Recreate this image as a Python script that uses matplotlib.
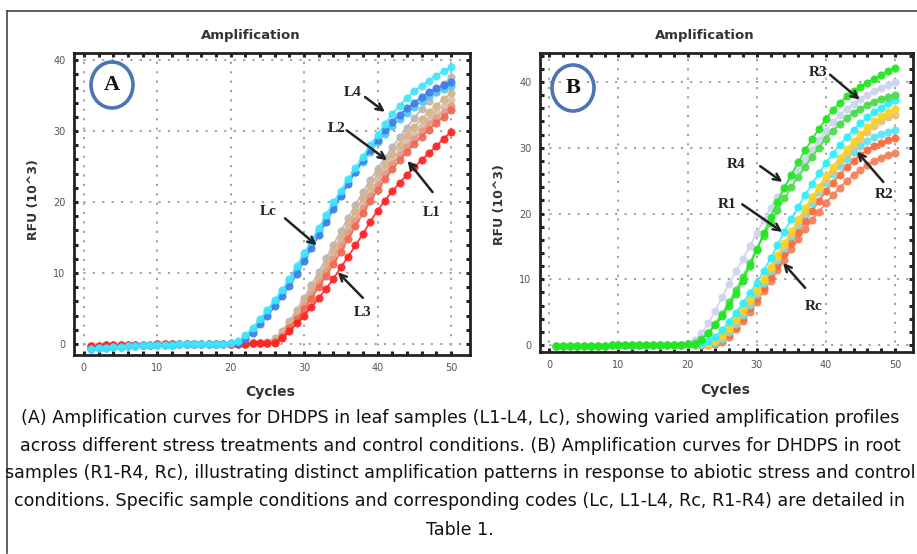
import numpy as np
import matplotlib.pyplot as plt
from matplotlib.patches import Ellipse
from matplotlib.lines import Line2D

cycles = list(range(1, 51))

# baselines (cycles 1-20)
base_a_early = [-0.7, -0.6, -0.5, -0.4, -0.4, -0.3, -0.3, -0.2, -0.2, -0.1,
                -0.1, -0.1, 0.0, 0.0, 0.0, 0.0, 0.0, 0.0, 0.0, 0.1]
base_a_late = [-0.3, -0.3, -0.2, -0.2, -0.2, -0.1, -0.1, -0.1, -0.1, 0.0,
               0.0, 0.0, 0.0, 0.0, 0.0, 0.0, 0.0, 0.0, 0.0, 0.0]
base_b = [-0.2, -0.2, -0.2, -0.1, -0.1, -0.1, -0.1, -0.1, 0.0, 0.0,
          0.0, 0.0, 0.0, 0.0, 0.0, 0.0, 0.0, 0.0, 0.0, 0.1]

# panel A, cycles 21-50 (RFU x10^3)
grey_a = [0.0, 0.1, 0.1, 0.2, 0.3, 0.8, 1.8, 3.2, 4.8, 6.5, 8.3, 10.2, 12.1, 14.0, 15.9,
          17.8, 19.6, 21.4, 23.1, 24.7, 26.2, 27.7, 29.1, 30.5, 31.8, 33.1, 34.3, 35.5, 36.6, 37.6]
tan_a = [0.0, 0.1, 0.1, 0.2, 0.2, 0.5, 1.5, 2.9, 4.4, 6.0, 7.7, 9.5, 11.3, 13.2, 15.1,
         17.0, 18.8, 20.6, 22.3, 23.9, 25.4, 26.8, 28.1, 29.4, 30.6, 31.7, 32.7, 33.6, 34.5, 35.3]
beige_a = [0.0, 0.0, 0.1, 0.1, 0.2, 0.4, 1.2, 2.5, 4.0, 5.6, 7.3, 9.0, 10.8, 12.6, 14.4,
           16.2, 18.0, 19.7, 21.4, 23.0, 24.5, 25.9, 27.2, 28.4, 29.6, 30.7, 31.7, 32.7, 33.6, 34.4]
salmon_a = [0.0, 0.0, 0.1, 0.1, 0.2, 0.3, 1.1, 2.3, 3.7, 5.2, 6.8, 8.5, 10.2, 12.0, 13.8,
            15.6, 17.4, 19.1, 20.8, 22.4, 23.9, 25.3, 26.6, 27.8, 28.9, 30.0, 31.0, 31.9, 32.7, 33.5]
coral_a = [0.0, 0.0, 0.1, 0.1, 0.2, 0.3, 1.0, 2.2, 3.5, 4.9, 6.4, 8.0, 9.6, 11.3, 13.0,
           14.8, 16.6, 18.4, 20.1, 21.7, 23.2, 24.6, 25.9, 27.1, 28.2, 29.2, 30.2, 31.1, 32.0, 32.9]
red_a = [0.0, 0.0, 0.1, 0.1, 0.1, 0.2, 0.8, 1.8, 2.9, 4.0, 5.2, 6.5, 7.8, 9.2, 10.8,
         12.3, 13.9, 15.5, 17.2, 18.8, 20.2, 21.5, 22.7, 23.8, 24.9, 25.9, 26.9, 27.9, 28.9, 29.9]
sky_a = [0.3, 1.0, 2.0, 3.2, 4.5, 5.9, 7.3, 8.9, 10.6, 12.3, 14.1, 15.9, 17.7, 19.5, 21.2,
         22.8, 24.3, 25.7, 27.1, 28.4, 29.6, 30.7, 31.7, 32.6, 33.4, 34.2, 34.9, 35.5, 35.9, 36.3]
blue_a = [0.2, 0.7, 1.6, 2.8, 4.0, 5.3, 6.7, 8.2, 9.9, 11.7, 13.5, 15.3, 17.2, 19.0, 20.8,
          22.6, 24.3, 25.9, 27.4, 28.8, 30.1, 31.3, 32.3, 33.2, 34.0, 34.8, 35.5, 36.0, 36.5, 36.9]
cyan_a = [0.4, 1.2, 2.3, 3.5, 4.8, 6.2, 7.6, 9.2, 11.0, 12.8, 14.5, 16.3, 18.2, 20.0, 21.6,
          23.2, 24.8, 26.4, 28.0, 29.5, 31.0, 32.4, 33.6, 34.7, 35.6, 36.4, 37.1, 37.8, 38.4, 39.0]

# panel B, cycles 21-50
orange2_b = [0.0, 0.0, 0.0, 0.1, 0.5, 1.3, 2.4, 3.7, 5.1, 6.6, 8.2, 9.8, 11.4, 13.0, 14.6,
             16.1, 17.6, 19.0, 20.3, 21.6, 22.8, 23.9, 24.9, 25.8, 26.6, 27.4, 28.0, 28.5, 28.9, 29.2]
orange_b = [0.0, 0.0, 0.1, 0.2, 0.7, 1.6, 2.8, 4.1, 5.6, 7.1, 8.7, 10.4, 12.1, 13.8, 15.5,
            17.2, 18.8, 20.4, 21.9, 23.4, 24.7, 25.9, 27.0, 28.0, 28.9, 29.6, 30.2, 30.7, 31.1, 31.5]
cyan2_b = [0.0, 0.1, 0.1, 0.3, 1.0, 2.0, 3.2, 4.6, 6.1, 7.7, 9.4, 11.2, 13.0, 14.8, 16.6,
           18.3, 20.0, 21.6, 23.2, 24.7, 26.0, 27.2, 28.3, 29.3, 30.2, 31.0, 31.6, 32.1, 32.4, 32.7]
tan_b = [0.0, 0.1, 0.2, 0.6, 1.3, 2.3, 3.6, 5.0, 6.5, 8.1, 9.8, 11.5, 13.3, 15.1, 16.9,
         18.6, 20.3, 22.0, 23.6, 25.1, 26.5, 27.9, 29.1, 30.3, 31.4, 32.4, 33.3, 34.0, 34.6, 35.0]
yellow_b = [0.0, 0.1, 0.2, 0.7, 1.5, 2.6, 3.9, 5.3, 6.8, 8.4, 10.1, 11.9, 13.7, 15.5, 17.3,
            19.1, 20.8, 22.5, 24.1, 25.7, 27.1, 28.5, 29.8, 31.0, 32.1, 33.1, 34.0, 34.8, 35.4, 35.9]
cyan_b = [0.1, 0.2, 0.6, 1.3, 2.3, 3.5, 4.9, 6.4, 7.9, 9.5, 11.3, 13.2, 15.2, 17.2, 19.2,
          21.0, 22.8, 24.5, 26.1, 27.7, 29.1, 30.4, 31.6, 32.7, 33.7, 34.6, 35.4, 36.1, 36.8, 37.3]
green2_b = [0.3, 0.9, 1.9, 3.2, 4.8, 6.5, 8.4, 10.4, 12.5, 14.6, 16.6, 18.6, 20.5, 22.3, 24.0,
            25.6, 27.1, 28.6, 30.0, 31.4, 32.6, 33.6, 34.5, 35.3, 35.9, 36.5, 37.0, 37.4, 37.7, 38.0]
lav_b = [0.7, 1.8, 3.3, 5.2, 7.3, 9.3, 11.2, 13.1, 15.0, 17.0, 19.0, 20.8, 22.5, 24.0, 25.4,
         26.8, 28.2, 29.6, 31.1, 32.6, 33.9, 35.0, 35.9, 36.7, 37.4, 38.0, 38.6, 39.1, 39.6, 40.0]
green_b = [0.2, 0.8, 1.8, 3.0, 4.4, 6.0, 7.8, 9.8, 12.0, 14.5, 17.0, 19.4, 21.7, 23.9, 25.9,
           27.8, 29.6, 31.3, 32.9, 34.4, 35.7, 36.8, 37.8, 38.6, 39.3, 39.9, 40.5, 41.0, 41.6, 42.1]

series_a = [
    (base_a_late + grey_a, "#bdb6b2"),
    (base_a_late + beige_a, "#d6c2ae"),
    (base_a_late + tan_a, "#d8b38a"),
    (base_a_late + salmon_a, "#e79a84"),
    (base_a_late + coral_a, "#ee6a55"),
    (base_a_late + red_a, "#ff2424"),
    (base_a_early + sky_a, "#52c6f2"),
    (base_a_early + blue_a, "#3f7fe6"),
    (base_a_early + cyan_a, "#3fe6ff"),
]
series_b = [
    (base_b + orange2_b, "#f5805a"),
    (base_b + orange_b, "#ff6a3a"),
    (base_b + cyan2_b, "#5ee4f4"),
    (base_b + tan_b, "#e6c27a"),
    (base_b + yellow_b, "#ffd21c"),
    (base_b + cyan_b, "#30eeff"),
    (base_b + lav_b, "#cdd4ee"),
    (base_b + green2_b, "#4bdc4b"),
    (base_b + green_b, "#22e622"),
]

# label, text pos, arrow tail, arrow head (data coords)
notes_a = [
    ("L4", (36.6, 35.4), (38.3, 34.8), (41.0, 32.7)),
    ("L2", (34.5, 30.4), (35.8, 30.1), (41.3, 25.9)),
    ("L1", (47.4, 18.5), (47.5, 21.4), (44.1, 25.8)),
    ("Lc", (25.1, 18.7), (27.4, 17.7), (31.7, 13.9)),
    ("L3", (37.9, 4.4), (38.0, 6.5), (34.6, 10.1)),
]
notes_b = [
    ("R3", (38.9, 41.5), (40.6, 41.1), (44.9, 37.3)),
    ("R4", (27.0, 27.5), (30.5, 27.2), (33.7, 24.8)),
    ("R1", (25.7, 21.4), (27.9, 21.4), (33.7, 17.2)),
    ("R2", (48.4, 22.9), (48.3, 24.8), (44.5, 29.4)),
    ("Rc", (38.2, 5.9), (37.0, 8.7), (33.8, 12.5)),
]

caption = [
    "(A) Amplification curves for DHDPS in leaf samples (L1-L4, Lc), showing varied amplification profiles",
    "across different stress treatments and control conditions. (B) Amplification curves for DHDPS in root",
    "samples (R1-R4, Rc), illustrating distinct amplification patterns in response to abiotic stress and control",
    "conditions. Specific sample conditions and corresponding codes (Lc, L1-L4, Rc, R1-R4) are detailed in",
    "Table 1.",
]

W, H = 917, 554
fig = plt.figure(figsize=(W / 100, H / 100), dpi=100)


def fx(px):
    return px / W


def fy(py):
    return 1 - py / H


def draw_panel(rect, series, notes, ylim, yticks, letter, circ, title_x, cyc_xy, rfu_xy):
    ax = fig.add_axes(rect)
    for vals, col in series:
        ax.plot(cycles, vals, '-o', color=col, lw=1.3, ms=5.2, mec=col, mew=0.6, alpha=0.92)
    ax.set_xlim(-1.35, 52.6)
    ax.set_ylim(*ylim)
    ax.set_xticks([0, 10, 20, 30, 40, 50])
    ax.set_xticks(np.arange(0, 52, 2), minor=True)
    ax.set_yticks(yticks)
    ax.set_yticks(np.arange(0, ylim[1], 2), minor=True)
    ax.grid(True, which='major', color='#9a9a9a', linestyle=(0, (1.2, 4)), lw=1.3)
    for which in ('major', 'minor'):
        ax.tick_params(which=which, direction='in', length=3, width=2.2, color='#222',
                       top=True, right=True)
    ax.tick_params(which='major', labelsize=7, labelcolor='#555', pad=6)
    for s in ax.spines.values():
        s.set_linewidth(2)
        s.set_color('#222')
    for lab, tpos, tail, head in notes:
        ax.text(tpos[0], tpos[1], lab, ha='center', va='center', fontsize=11,
                fontweight='bold', family='Liberation Serif', color='#222')
        ax.annotate('', xy=head, xytext=tail,
                    arrowprops=dict(arrowstyle='->', lw=1.8, color='#222', mutation_scale=12,
                                    shrinkA=0, shrinkB=0))
    # panel letter in a circle
    cx, cy = circ
    fig.patches.append(Ellipse((fx(cx), fy(cy)), 42 / W, 46 / H, transform=fig.transFigure,
                               fill=False, ec='#4a74b4', lw=2.6, zorder=5))
    fig.text(fx(cx), fy(cy), letter, ha='center', va='center', fontsize=16,
             fontweight='bold', family='Liberation Serif', color='#111')
    fig.text(fx(title_x), fy(35), "Amplification", ha='center', va='center',
             fontsize=9.5, fontweight='bold', color='#333')
    fig.text(fx(cyc_xy[0]), fy(cyc_xy[1]), "Cycles", ha='center', va='center',
             fontsize=10, fontweight='bold', color='#333')
    fig.text(fx(rfu_xy[0]), fy(rfu_xy[1]), "RFU (10^3)", ha='center', va='center',
             fontsize=9, fontweight='bold', color='#333', rotation=90)
    return ax


draw_panel([fx(74), fy(355), (470 - 74) / W, (355 - 53) / H], series_a, notes_a,
           (-1.55, 41.0), [0, 10, 20, 30, 40], "A", (112, 85), 251, (270, 392), (33, 200))
draw_panel([fx(540), fy(352), (913 - 540) / W, (352 - 53) / H], series_b, notes_b,
           (-1.05, 44.4), [0, 10, 20, 30, 40], "B", (573, 88), 705, (725, 390), (500, 205))

# outer border
fig.add_artist(Line2D([fx(7), fx(7)], [fy(11), fy(553)], transform=fig.transFigure,
                      color='#444', lw=1.2))
fig.add_artist(Line2D([fx(7), fx(917)], [fy(11), fy(11)], transform=fig.transFigure,
                      color='#444', lw=1.2))

# caption, sized so the first line spans ~900 px like the reference
line_y = [418, 446, 473, 501, 530]
cap_texts = []
for txt, y in zip(caption, line_y):
    t = fig.text(fx(460), fy(y), txt, ha='center', va='center', fontsize=12,
                 family='DejaVu Sans', color='#111')
    cap_texts.append(t)
renderer = fig.canvas.get_renderer()
w0 = max(t.get_window_extent(renderer=renderer).width for t in cap_texts)
for t in cap_texts:
    t.set_fontsize(12 * 905 / w0)

fig.savefig("out.png", dpi=100)
